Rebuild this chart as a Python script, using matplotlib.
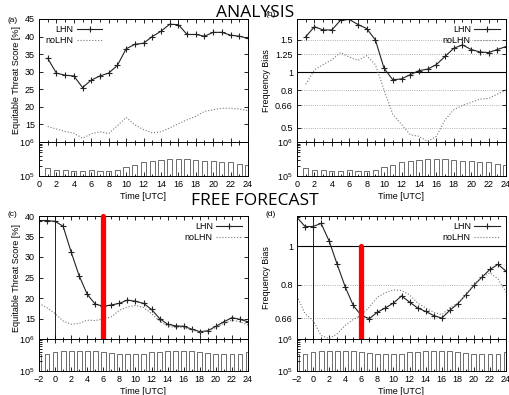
import matplotlib
matplotlib.use("Agg")
import matplotlib.pyplot as plt
import matplotlib.ticker as mt

plt.rcParams['font.family'] = ['Liberation Sans', 'DejaVu Sans']

# ---------------- data: analysis (a, b) ----------------
hours_an = list(range(1, 25))
ets_lhn_an = [33.8, 29.6, 29.0, 28.8, 25.5, 27.6, 28.8, 29.6, 31.8, 36.5, 37.8, 38.1,
              40.0, 41.5, 43.5, 43.4, 40.6, 40.6, 40.1, 41.2, 41.2, 40.4, 40.1, 39.5]
ets_nolhn_an = [14.4, 13.7, 13.0, 12.5, 11.1, 12.3, 12.9, 12.4, 14.6, 17.0, 14.9, 13.5,
                12.6, 12.9, 14.0, 15.2, 16.3, 17.3, 18.7, 19.2, 19.6, 19.6, 19.4, 18.9]
fb_lhn_an = [1.56, 1.77, 1.70, 1.70, 1.92, 1.94, 1.82, 1.73, 1.50, 1.05, 0.91, 0.92,
             0.97, 1.02, 1.04, 1.10, 1.22, 1.35, 1.41, 1.33, 1.29, 1.28, 1.33, 1.38]
fb_nolhn_an = [0.86, 1.03, 1.10, 1.17, 1.28, 1.21, 1.16, 1.23, 1.10, 0.80, 0.59, 0.52,
               0.457, 0.448, 0.42, 0.448, 0.55, 0.625, 0.66, 0.685, 0.714, 0.72, 0.76, 0.80]
count_an = [1.7e5, 1.55e5, 1.55e5, 1.45e5, 1.45e5, 1.5e5, 1.45e5, 1.45e5, 1.5e5, 1.8e5,
            2.1e5, 2.5e5, 2.8e5, 3.05e5, 3.2e5, 3.2e5, 3.15e5, 3.0e5, 2.85e5, 2.7e5,
            2.65e5, 2.5e5, 2.25e5, 2.15e5]

# ---------------- data: free forecast (c, d) ----------------
hours_ff = list(range(-2, 25))
ets_lhn_ff = [38.9, 38.9, 38.7, 37.5, 31.2, 25.4, 20.9, 18.5, 18.0, 18.3, 18.7, 19.5, 19.2,
              18.7, 17.2, 15.0, 13.6, 13.2, 13.1, 12.4, 11.8, 12.0, 13.1, 14.2, 15.2, 14.8, 14.2]
ets_nolhn_ff = [18.7, 17.6, 16.2, 14.4, 13.6, 13.8, 14.6, 14.5, 14.9, 15.4, 17.0, 17.8, 18.2,
                17.7, 16.2, 14.4, 13.1, 12.8, 12.8, 12.2, 11.6, 11.9, 12.8, 13.8, 14.6, 14.2, 13.4]
fb_lhn_ff = [1.18, 1.12, 1.12, 1.14, 1.03, 0.90, 0.79, 0.71, 0.67, 0.658, 0.683, 0.70, 0.72,
             0.75, 0.724, 0.70, 0.686, 0.67, 0.66, 0.69, 0.717, 0.755, 0.797, 0.836, 0.874, 0.90, 0.866]
fb_nolhn_ff = [0.75, 0.677, 0.651, 0.597, 0.586, 0.603, 0.633, 0.655, 0.67, 0.703, 0.745, 0.764,
               0.777, 0.774, 0.755, 0.72, 0.70, 0.683, 0.673, 0.70, 0.72, 0.755, 0.80, 0.836,
               0.857, 0.828, 0.767]
count_ff = [3.5e5, 3.5e5, 4.0e5, 4.2e5, 4.3e5, 4.3e5, 4.3e5, 4.2e5, 4.0e5, 3.7e5, 3.5e5, 3.3e5,
            3.3e5, 3.5e5, 3.8e5, 4.0e5, 4.2e5, 4.2e5, 4.2e5, 4.2e5, 4.0e5, 3.7e5, 3.5e5, 3.3e5,
            3.3e5, 3.5e5, 3.8e5]

fig = plt.figure(figsize=(5.1, 3.95), dpi=100)
W, H = 510.0, 395.0
BASE = 1e5  # bottom of the count axis


def box(x0, y0, x1, y1):
    # pixel box (top-left origin) -> figure fraction
    return [x0 / W, 1 - y1 / H, (x1 - x0) / W, (y1 - y0) / H]


def style(ax):
    ax.tick_params(direction='in', which='both', top=True, right=True, labelsize=6.5,
                   length=3, width=0.6, pad=2)
    ax.tick_params(axis='y', pad=3)
    ax.tick_params(which='minor', length=1.8)
    for s in ax.spines.values():
        s.set_linewidth(0.7)


def panel(x0, y0, ymid, y1, hours, lhn, nolhn, counts, xlim, ylabel, legloc, tag, tagy):
    ax = fig.add_axes(box(x0, y0, x0 + 209, ymid))
    bx = fig.add_axes(box(x0, ymid, x0 + 209, y1), sharex=ax)
    ax.plot(hours, lhn, color='#222222', lw=0.8, marker='+', ms=5, mew=0.8, label='LHN')
    ax.plot(hours, nolhn, color='#777777', lw=0.8, ls=':', label='noLHN')
    ax.set_xlim(*xlim)
    ax.set_ylabel(ylabel, fontsize=6.5, labelpad=3)
    ax.xaxis.set_major_locator(mt.MultipleLocator(2))
    ax.xaxis.set_minor_locator(mt.MultipleLocator(1))
    plt.setp(ax.get_xticklabels(), visible=False)
    style(ax)
    ax.legend(loc=legloc, frameon=False, fontsize=6.5, markerfirst=False,
              handlelength=2.8, handletextpad=0.4, labelspacing=0.15, borderaxespad=0.3)
    # counts of observations (log axis), hollow boxes
    bx.bar(hours, [c - BASE for c in counts], width=0.6, bottom=BASE, fill=False,
           edgecolor='#555555', lw=0.6)
    bx.set_yscale('log')
    bx.set_ylim(BASE, 1e6)
    bx.set_yticks([BASE, 1e6])
    bx.yaxis.set_minor_formatter(mt.NullFormatter())
    bx.set_xlabel('Time [UTC]', fontsize=6.5, labelpad=2)
    style(bx)
    bx.tick_params(axis='x', pad=3)
    bx.tick_params(axis='y', which='minor', right=False)
    fig.text((x0 - 31) / W, 1 - tagy / H, tag, fontsize=6, va='center')
    return ax, bx


# (a) ETS analysis
ax, bx = panel(39, 19, 142, 176, hours_an, ets_lhn_an, ets_nolhn_an, count_an, (0, 24),
               'Equitable Threat Score [%]', 'upper left', '(a)', 20)
ax.set_ylim(10, 45)
ax.set_yticks(range(10, 50, 5))
ax.set_yticklabels([''] + [str(v) for v in range(15, 50, 5)])

# (b) frequency bias analysis
ax, bx = panel(297, 19, 142, 176, hours_an, fb_lhn_an, fb_nolhn_an, count_an, (0, 24),
               'Frequency Bias', 'upper right', '(b)', 14)
ax.set_yscale('log')
ax.set_ylim(0.417, 1.95)
fb_ticks = [0.5, 0.66, 0.8, 1, 1.25, 1.5]
ax.set_yticks(fb_ticks)
ax.set_yticklabels(['0.5', '0.66', '0.8', '1', '1.25', '1.5'])
ax.yaxis.set_minor_locator(mt.NullLocator())
for v in fb_ticks:
    if v == 1:
        ax.axhline(v, color='black', lw=0.8, zorder=1)
    else:
        ax.axhline(v, color='#999999', lw=0.6, ls=':', zorder=1)

# (c) ETS free forecast
ax, bx = panel(39, 216, 339, 371, hours_ff, ets_lhn_ff, ets_nolhn_ff, count_ff, (-2, 24),
               'Equitable Threat Score [%]', 'upper right', '(c)', 215)
ax.set_ylim(10, 40)
ax.set_yticks(range(10, 45, 5))
ax.set_yticklabels([''] + [str(v) for v in range(15, 45, 5)])
ax.axvline(0, color='black', lw=0.6, zorder=1)
ax.plot([6, 6], [40, 10], color='red', lw=3.8, solid_capstyle='round', clip_on=False, zorder=5)

# (d) frequency bias free forecast
ax, bx = panel(297, 216, 339, 371, hours_ff, fb_lhn_ff, fb_nolhn_ff, count_ff, (-2, 24),
               'Frequency Bias', 'upper right', '(d)', 215)
ax.set_yscale('log')
ax.set_ylim(0.585, 1.19)
ax.set_yticks([0.66, 0.8, 1])
ax.set_yticklabels(['0.66', '0.8', '1'])
ax.yaxis.set_minor_locator(mt.NullLocator())
ax.axhline(1, color='black', lw=0.8, zorder=1)
ax.axhline(0.8, color='#999999', lw=0.6, ls=':', zorder=1)
ax.axhline(0.66, color='#999999', lw=0.6, ls=':', zorder=1)
ax.axvline(0, color='black', lw=0.6, zorder=1)
ax.plot([6, 6], [1, 0.585], color='red', lw=3.8, solid_capstyle='round', clip_on=False, zorder=5)

fig.text(0.5, 1 - 13 / H, 'ANALYSIS', ha='center', va='center', fontsize=12.5,
         family=['Open Sans', 'DejaVu Sans'])
fig.text(0.5, 1 - 201 / H, 'FREE FORECAST', ha='center', va='center', fontsize=12.5,
         family=['Open Sans', 'DejaVu Sans'])

fig.savefig('out.png', dpi=100)
